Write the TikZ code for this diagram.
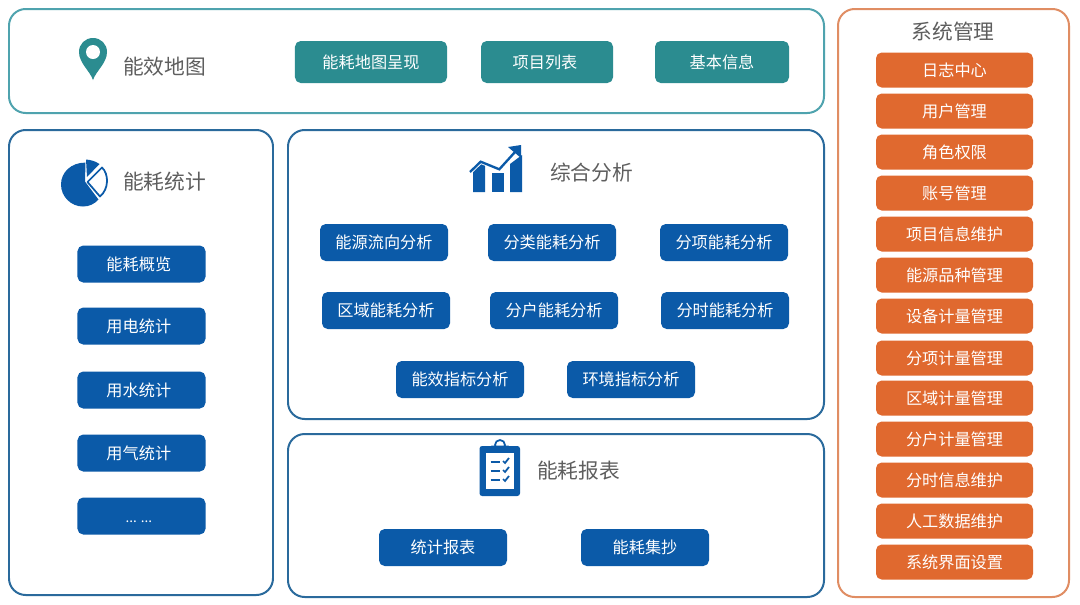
\documentclass[tikz,border=0pt]{standalone}
\usepackage{fontspec}
\usepackage{xcolor}
\setmainfont{Noto Sans CJK SC}
\definecolor{tealbtn}{HTML}{2B8C90}
\definecolor{tealline}{HTML}{4FA3AE}
\definecolor{bluebtn}{HTML}{0B5AA8}
\definecolor{blueline}{HTML}{2A6A9C}
\definecolor{orangebtn}{HTML}{E0692F}
\definecolor{orangeline}{HTML}{E08D63}
\definecolor{headtext}{HTML}{5E5E5E}
\tikzset{
  panel/.style={line width=1.7pt, rounded corners=0.5cm},
  headlabel/.style={text=headtext, font=\fontsize{17.7}{20}\selectfont, inner sep=0pt},
  button/.style={rounded corners=0.17cm, text=white, inner sep=0pt,
    font=\fontsize{13.8}{16}\selectfont},
  tealkey/.style={button, fill=tealbtn, minimum height=1.26cm},
  bluekey/.style={button, fill=bluebtn, minimum width=3.84cm, minimum height=1.11cm},
  orangekey/.style={button, fill=orangebtn, minimum width=4.71cm, minimum height=1.05cm}
}
\begin{document}
\begin{tikzpicture}[x=0.03cm, y=-0.03cm]
  \useasboundingbox (0,0) rectangle (1080,604);
  \fill[white] (0,0) rectangle (1080,604);

  % Draw the panels
  \draw[panel, tealline] (9,9) rectangle (824,113);
  \draw[panel, blueline] (9,130) rectangle (273,595);
  \draw[panel, blueline] (288,130) rectangle (824,419);
  \draw[panel, blueline] (288,434) rectangle (824,597);
  \draw[panel, orangeline] (838,9) rectangle (1069,597);

  % Panel headings
  \node[headlabel] (mapTitle) at (164.5,67) {能效地图};
  \node[headlabel] (statTitle) at (164.5,182) {能耗统计};
  \node[headlabel] (analysisTitle) at (591.5,173) {综合分析};
  \node[headlabel] (reportTitle) at (578.5,471) {能耗报表};
  \node[headlabel] (systemTitle) at (953,32) {系统管理};

  % Map panel keys
  \node[tealkey, minimum width=4.56cm] (mapShow) at (371,62) {能耗地图呈现};
  \node[tealkey, minimum width=3.96cm] (mapList) at (547,62) {\hspace*{-0.12cm}项目列表};
  \node[tealkey, minimum width=4.02cm] (mapInfo) at (722,62) {基本信息};

  % Statistics keys
  \foreach \n/\y/\t in {statA/264/能耗概览, statB/326/用电统计, statC/390/用水统计, statD/453/用气统计}
    \node[bluekey] (\n) at (141.5,\y) {\hspace*{-0.16cm}\t};
  \node[bluekey] (statE) at (141.5,516) {\hspace*{-0.16cm}\raisebox{-0.18cm}[0pt][0pt]{\fontsize{11.5}{14}\selectfont ... ...}};

  % Analysis keys
  \foreach \n/\x/\y/\t in {anaA/384/242.5/能源流向分析, anaB/552/242.5/分类能耗分析, anaC/724/242.5/分项能耗分析,
      anaD/386/310.5/区域能耗分析, anaE/554/310.5/分户能耗分析, anaF/725/310.5/分时能耗分析,
      anaG/460/379.5/能效指标分析, anaH/631/379.5/环境指标分析}
    \node[bluekey] (\n) at (\x,\y) {\t};

  % Report keys
  \node[bluekey] (repStat) at (443,547.5) {统计报表};
  \node[bluekey] (repCopy) at (645,547.5) {能耗集抄};

  % System keys
  \foreach \n/\y/\t in {sysA/70/日志中心, sysB/111/用户管理, sysC/152/角色权限, sysD/193/账号管理,
      sysE/234/项目信息维护, sysF/275/能源品种管理, sysG/316/设备计量管理, sysH/358/分项计量管理,
      sysI/398/区域计量管理, sysJ/439/分户计量管理, sysK/480/分时信息维护, sysL/521/人工数据维护, sysM/562/系统界面设置}
    \node[orangekey] (\n) at (954.5,\y) {\t};

  % Pin icon
  \fill[tealbtn] (93,80) .. controls (90,71) and (79,63) .. (79,52)
    .. controls (79,44) and (85,38) .. (93,38)
    .. controls (101,38) and (107,44) .. (107,52)
    .. controls (107,63) and (96,71) .. (93,80) -- cycle;
  \fill[white] (93,52) circle (7);

  % Pie icon
  \fill[bluebtn] (85,181.5) -- (85.5,162.6) .. controls (71,162.5) and (61,172.4) .. (61,184.5)
    .. controls (61,196.6) and (71,206.5) .. (83,206.5)
    .. controls (89,206.5) and (94.5,204) .. (98.5,199.5) -- cycle;
  \fill[bluebtn] (86,159.5) .. controls (91,160) and (95,161) .. (99.5,164) -- (87,177) -- cycle;
  \draw[bluebtn, line width=1.5pt, line join=round, fill=white] (87.5,182) -- (102,167.5)
    .. controls (109,174) and (109,189) .. (100,196.5) -- cycle;

  % Chart icon
  \fill[bluebtn] (473,168) -- (480.5,163) -- (485,165) -- (485,192) -- (473,192) -- cycle;
  \fill[bluebtn] (492,173) -- (504,173) -- (504,192) -- (492,192) -- cycle;
  \fill[bluebtn] (510,164) -- (522,155) -- (522,192) -- (510,192) -- cycle;
  \draw[white, line width=3.6pt, line join=miter] (470,172) -- (480.7,161.7) -- (499.3,169.3) -- (515,152);
  \draw[bluebtn, line width=2pt, line join=miter] (470,172) -- (480.7,161.7) -- (499.3,169.3) -- (515,152);
  \fill[bluebtn] (521,145) -- (521,158) -- (508,147) -- cycle;

  % Clipboard icon
  \fill[bluebtn, rounded corners=0.08cm] (479.5,446) rectangle (520,496);
  \fill[white] (486,452.5) rectangle (513.5,489);
  \draw[bluebtn, line width=1.5pt, fill=white] (500,445) circle (5);
  \fill[bluebtn, rounded corners=0.05cm] (490,445.5) rectangle (510,452.5);
  \foreach \y in {461,470,479} {
    \draw[bluebtn, line width=1.5pt] (490.5,\y+1) -- (500,\y+1);
    \draw[bluebtn, line width=1.5pt] (503,\y) -- (505,\y+2) -- (509,\y-3);
  }
\end{tikzpicture}
\end{document}
